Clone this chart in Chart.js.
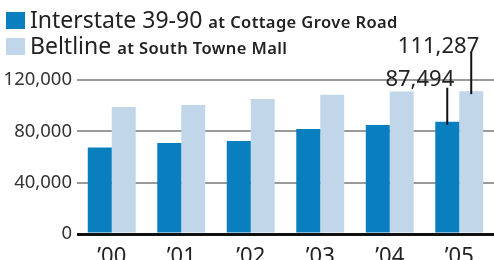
<!DOCTYPE html>
<html>
<head>
<meta charset="utf-8">
<script src="https://cdn.jsdelivr.net/npm/chart.js@4"></script>
<style>
  html, body { margin: 0; padding: 0; background: #fff; }
  #wrap { position: relative; width: 494px; height: 260px; }
</style>
</head>
<body>
<div id="wrap"><canvas id="chart" width="494" height="260"></canvas></div>
<script>
// chart data
const years = ['\u201900', '\u201901', '\u201902', '\u201903', '\u201904', '\u201905'];
const interstate = [67500, 71000, 72500, 81800, 85000, 87494];
const beltline = [99000, 100500, 105200, 108500, 111000, 111287];
const seriesNames = ['Interstate 39-90', 'Beltline'];
const seriesPlaces = ['at Cottage Grove Road', 'at South Towne Mall'];
const yTicks = [0, 40000, 80000, 120000];

const darkBlue = '#0a7fc0';
const lightBlue = '#c2d6ea';
const FONT = "'Noto Sans', 'Open Sans', sans-serif";

const fmt = v => v.toLocaleString('en-US');

// legend drawn at the top left, big name + small place
const legendPlugin = {
  id: 'topLegend',
  afterDraw(chart) {
    const ctx = chart.ctx;
    ctx.save();
    chart.data.datasets.forEach((ds, i) => {
      const base = 28 + i * 26;
      ctx.fillStyle = ds.backgroundColor;
      ctx.fillRect(6, base - 16, 19, 17);
      ctx.fillStyle = '#222';
      ctx.textBaseline = 'alphabetic';
      ctx.font = '23px ' + FONT;
      ctx.fillText(seriesNames[i], 30, base);
      const w = ctx.measureText(seriesNames[i]).width;
      ctx.font = '600 16.5px ' + FONT;
      ctx.letterSpacing = '0.4px';
      ctx.fillText(seriesPlaces[i], 30 + w + 6, base);
      ctx.letterSpacing = '0px';
    });
    ctx.restore();
  }
};

// callouts for the last year of each series
const calloutPlugin = {
  id: 'callouts',
  afterDatasetsDraw(chart) {
    const ctx = chart.ctx;
    const last = years.length - 1;
    const opts = [
      { lineTop: 34, textBase: 36, textRight: 7 },
      { lineTop: 39, textBase: 38, textRight: 8 }
    ];
    ctx.save();
    chart.data.datasets.forEach((ds, i) => {
      const el = chart.getDatasetMeta(i).data[last];
      const o = opts[i];
      ctx.strokeStyle = '#111';
      ctx.lineWidth = 2;
      ctx.beginPath();
      ctx.moveTo(el.x, el.y + 3);
      ctx.lineTo(el.x, el.y - o.lineTop);
      ctx.stroke();
      ctx.fillStyle = '#222';
      ctx.font = '22px ' + FONT;
      ctx.textAlign = 'right';
      ctx.textBaseline = 'alphabetic';
      ctx.fillText(fmt(ds.data[last]), el.x + o.textRight, el.y - o.textBase);
    });
    ctx.restore();
  }
};

new Chart(document.getElementById('chart'), {
  type: 'bar',
  data: {
    labels: years,
    datasets: [
      { label: seriesNames[0], data: interstate, backgroundColor: darkBlue },
      { label: seriesNames[1], data: beltline, backgroundColor: lightBlue }
    ]
  },
  options: {
    responsive: false,
    animation: false,
    devicePixelRatio: 1,
    layout: { padding: { top: 80, left: 0, right: 0, bottom: 0 } },
    datasets: { bar: { categoryPercentage: 0.69, barPercentage: 1.0 } },
    plugins: { legend: { display: false }, tooltip: { enabled: false } },
    scales: {
      x: {
        grid: { display: false },
        border: { display: false },
        ticks: { color: '#222', font: { family: FONT, size: 22 }, padding: 2 },
        afterFit(scale) { scale.height = 26; }
      },
      y: {
        min: 0,
        max: 120000,
        afterBuildTicks(scale) { scale.ticks = yTicks.map(v => ({ value: v })); },
        border: { display: false },
        grid: {
          drawTicks: false,
          color: c => c.tick && c.tick.value === 0 ? '#111' : '#9a9a9a',
          lineWidth: c => c.tick && c.tick.value === 0 ? 3 : 2
        },
        ticks: {
          color: '#333',
          font: { family: FONT, size: 18.5 },
          padding: 5,
          callback: v => fmt(v)
        },
        afterFit(scale) { scale.width = 77; }
      }
    }
  },
  plugins: [legendPlugin, calloutPlugin]
});
</script>
</body>
</html>
